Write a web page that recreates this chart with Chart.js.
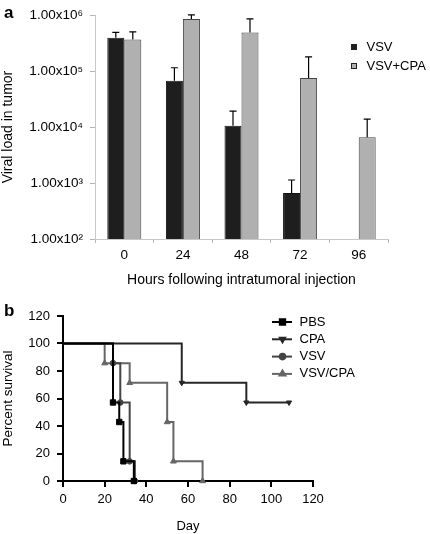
<!DOCTYPE html>
<html>
<head>
<meta charset="utf-8">
<script src="https://cdn.jsdelivr.net/npm/chart.js@4.4.1/dist/chart.umd.min.js"></script>
<style>
  body { margin: 0; background: #fff; }
  #wrap { position: relative; width: 430px; height: 534px; font-family: "Liberation Sans", Arial, Helvetica, sans-serif; }
  canvas { position: absolute; left: 0; }
  #cA { top: 0; }
  #cB { top: 290px; }
  .tag { position: absolute; left: 4px; font-weight: bold; font-size: 17px; }
</style>
</head>
<body>
<div id="wrap">
  <canvas id="cA" width="430" height="290"></canvas>
  <canvas id="cB" width="430" height="244"></canvas>
  <div class="tag" style="top:3px">a</div>
  <div class="tag" style="top:301px">b</div>
</div>
<script>
// panel a - viral load (log scale), mean + SD
const hours = ['0', '24', '48', '72', '96'];
const vsvLoad = [393000, 67100, 10500, 663, null];
const vsvSD = [98000, 47500, 8800, 470, null];
const vsvCpaLoad = [368000, 849000, 491000, 75000, 6550];
const vsvCpaSD = [135000, 164000, 368000, 105000, 7350];
const loadTicks = [1e2, 1e3, 1e4, 1e5, 1e6];

// panel b - survival curves (day of event, percent surviving after it)
const pbsDays = [0, 24, 27, 29, 34];
const pbsSurv = [100, 57.1, 42.9, 14.3, 0];
const cpaDays = [0, 57, 88, 108.5];
const cpaSurv = [100, 71.4, 57.1, 57.1];
const vsvDays = [0, 24, 27.5, 32, 34.5];
const vsvSurv = [100, 85.7, 57.1, 14.3, 0];
const comboDays = [0, 20, 32, 50, 53, 67];
const comboSurv = [100, 85.7, 71.4, 42.9, 14.3, 0];
const surviveTicks = [0, 20, 40, 60, 80, 100, 120];

Chart.defaults.font.family = '"Liberation Sans", Arial, Helvetica, sans-serif';
Chart.defaults.color = '#000';

const sup = ['⁰','¹','²','³','⁴','⁵','⁶','⁷','⁸','⁹'];

// error bars (upper whisker only)
const errorBars = {
  id: 'errorBars',
  afterDatasetsDraw(chart) {
    const ctx = chart.ctx;
    const y = chart.scales.y;
    [vsvSD, vsvCpaSD].forEach((sd, i) => {
      const vals = chart.data.datasets[i].data;
      chart.getDatasetMeta(i).data.forEach((bar, j) => {
        if (vals[j] == null) return;
        const top = y.getPixelForValue(vals[j] + sd[j]);
        ctx.save();
        ctx.strokeStyle = '#000';
        ctx.lineWidth = 1.2;
        ctx.beginPath();
        ctx.moveTo(bar.x, bar.y);
        ctx.lineTo(bar.x, top);
        ctx.moveTo(bar.x - 3.5, top);
        ctx.lineTo(bar.x + 3.5, top);
        ctx.stroke();
        ctx.restore();
      });
    });
  }
};

const legendA = {
  id: 'legendA',
  afterDraw(chart) {
    const ctx = chart.ctx;
    ctx.save();
    ctx.font = '13px "Liberation Sans", Arial, sans-serif';
    ctx.textBaseline = 'middle';
    chart.data.datasets.forEach((ds, i) => {
      const y = 47 + i * 19;
      ctx.fillStyle = ds.backgroundColor;
      ctx.strokeStyle = '#222';
      ctx.lineWidth = 1;
      ctx.fillRect(351, y - 3, 6, 6);
      ctx.strokeRect(351.5, y - 2.5, 5, 5);
      ctx.fillStyle = '#000';
      ctx.fillText(ds.label, 366.5, y);
    });
    ctx.restore();
  }
};

new Chart(document.getElementById('cA'), {
  type: 'bar',
  data: {
    labels: hours,
    datasets: [
      { label: 'VSV', data: vsvLoad, backgroundColor: '#1e1e1e', borderColor: '#111', borderWidth: 1 },
      { label: 'VSV+CPA', data: vsvCpaLoad, backgroundColor: '#b0b0b0', borderColor: '#444', borderWidth: 1 }
    ]
  },
  options: {
    responsive: false,
    animation: false,
    datasets: { bar: { categoryPercentage: 0.58, barPercentage: 1 } },
    layout: { padding: { top: 15, right: 42, bottom: 0, left: 0 } },
    plugins: { legend: { display: false }, tooltip: { enabled: false } },
    scales: {
      x: {
        grid: { drawOnChartArea: false, tickLength: 4, color: '#b5b5b5' },
        border: { color: '#c8c8c8' },
        ticks: { font: { size: 13.5 }, padding: 4 },
        title: { display: true, text: 'Hours following intratumoral injection', font: { size: 14 }, padding: { top: 0, bottom: 1 } },
        afterFit: s => { s.height = 51; }
      },
      y: {
        type: 'logarithmic',
        min: 100,
        max: 1e6,
        grid: { drawOnChartArea: false, tickLength: 5, color: '#b5b5b5' },
        border: { color: '#c8c8c8' },
        ticks: {
          font: { size: 13.5 },
          padding: 7,
          callback: v => '1.00x10' + sup[Math.round(Math.log10(v))]
        },
        afterBuildTicks: s => { s.ticks = loadTicks.map(v => ({ value: v })); },
        title: { display: true, text: 'Viral load in tumor', font: { size: 14 }, padding: { top: 0, bottom: 0 } },
        afterFit: s => { s.width = 95; }
      }
    }
  },
  plugins: [errorBars, legendA]
});

// panel b
const pts = (xs, ys) => xs.map((x, i) => ({ x: x, y: ys[i] }));
const radii = (xs, r) => xs.map((x, i) => i === 0 ? 0 : r);

function survSet(label, xs, ys, color, style, r, rot) {
  return {
    label: label,
    data: pts(xs, ys),
    borderColor: color,
    backgroundColor: color,
    pointBackgroundColor: color,
    pointBorderColor: color,
    borderWidth: 2,
    stepped: true,
    fill: false,
    clip: false,
    pointStyle: style,
    pointRotation: rot || 0,
    pointRadius: radii(xs, r),
    pointBorderWidth: 1
  };
}

const legendB = {
  id: 'legendB',
  afterDraw(chart) {
    const ctx = chart.ctx;
    ctx.save();
    ctx.font = '13px "Liberation Sans", Arial, sans-serif';
    ctx.textBaseline = 'middle';
    chart.data.datasets.forEach((ds, i) => {
      const y = 32 + i * 17.3;
      ctx.strokeStyle = ds.borderColor;
      ctx.lineWidth = 2;
      ctx.beginPath();
      ctx.moveTo(272, y);
      ctx.lineTo(292, y);
      ctx.stroke();
      ctx.fillStyle = ds.backgroundColor;
      Chart.helpers.drawPoint(ctx, {
        pointStyle: ds.pointStyle,
        rotation: ds.pointRotation,
        radius: ds.pointRadius[1],
        borderWidth: 1
      }, 282.5, y);
      ctx.fillStyle = '#000';
      ctx.fillText(ds.label, 299.5, y);
    });
    ctx.restore();
  }
};

const axisB = {
  grid: { drawOnChartArea: false, tickLength: 6, color: '#000', lineWidth: 2 },
  border: { color: '#000', width: 2 }
};

new Chart(document.getElementById('cB'), {
  type: 'line',
  data: {
    datasets: [
      survSet('PBS', pbsDays, pbsSurv, '#000', 'rect', 3.8),
      survSet('CPA', cpaDays, cpaSurv, '#262626', 'triangle', 3, 180),
      survSet('VSV', vsvDays, vsvSurv, '#444', 'circle', 2.8),
      survSet('VSV/CPA', comboDays, comboSurv, '#666', 'triangle', 3.4)
    ]
  },
  options: {
    responsive: false,
    animation: false,
    layout: { padding: { top: 26, right: 117, bottom: 0, left: 0 } },
    plugins: { legend: { display: false }, tooltip: { enabled: false } },
    scales: {
      x: {
        type: 'linear',
        min: 0,
        max: 120,
        ...axisB,
        ticks: { stepSize: 20, font: { size: 13 }, padding: 5 },
        title: { display: true, text: 'Day', font: { size: 13 }, padding: { top: 0, bottom: 0 } },
        afterFit: s => { s.height = 53; }
      },
      y: {
        min: 0,
        max: 120,
        ...axisB,
        ticks: { font: { size: 13 }, padding: 7 },
        afterBuildTicks: s => { s.ticks = surviveTicks.map(v => ({ value: v })); },
        title: { display: true, text: 'Percent survival', font: { size: 13.5 }, padding: { top: 0, bottom: 0 } },
        afterFit: s => { s.width = 63; }
      }
    }
  },
  plugins: [legendB]
});
</script>
</body>
</html>
